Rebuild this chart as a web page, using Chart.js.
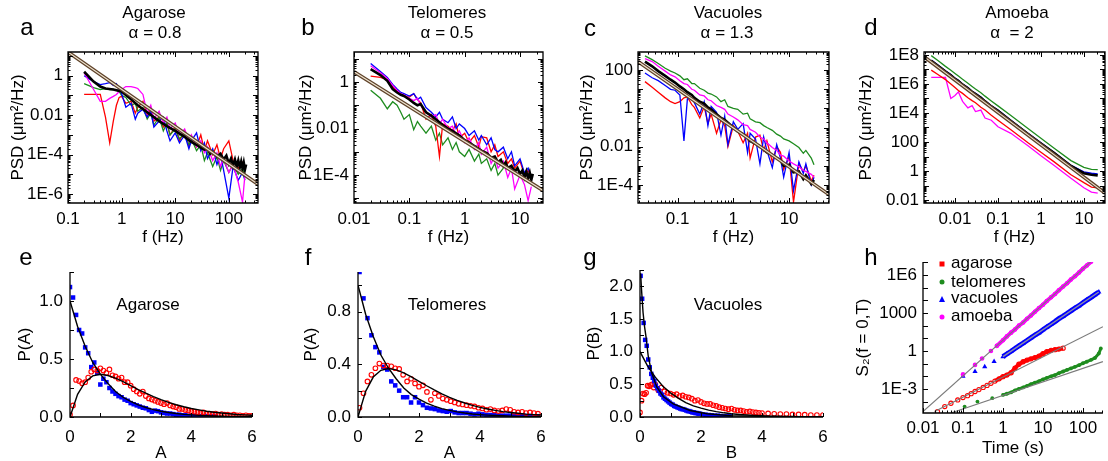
<!DOCTYPE html>
<html>
<head>
<meta charset="utf-8">
<script src="https://cdn.jsdelivr.net/npm/chart.js@4.4.1/dist/chart.umd.min.js"></script>
<style>
  body { margin: 0; background: #fff; width: 1108px; height: 461px; overflow: hidden; position: relative;
         font-family: "Liberation Sans", Arial, Helvetica, sans-serif; color: #000; }
  canvas { position: absolute; left: 0; top: 0; }
  .t { position: absolute; transform: translate(-50%, -50%); white-space: nowrap; font-size: 17px; }
  .k { position: absolute; transform: translate(-50%, -50%); font-size: 24px; }
  .lg { position: absolute; font-size: 17px; white-space: nowrap; transform: translateY(-50%); }
  .mk { position: absolute; transform: translate(-50%, -50%); }
</style>
</head>
<body>
<canvas id="pa" width="1108" height="461"></canvas>
<canvas id="pb" width="1108" height="461"></canvas>
<canvas id="pc" width="1108" height="461"></canvas>
<canvas id="pd" width="1108" height="461"></canvas>
<canvas id="pe" width="1108" height="461"></canvas>
<canvas id="pf" width="1108" height="461"></canvas>
<canvas id="pg" width="1108" height="461"></canvas>
<canvas id="ph" width="1108" height="461"></canvas>

<div class="k" style="left:27px;top:27px">a</div>
<div class="k" style="left:308px;top:27px">b</div>
<div class="k" style="left:590px;top:28px">c</div>
<div class="k" style="left:871px;top:27px">d</div>
<div class="k" style="left:26px;top:257px">e</div>
<div class="k" style="left:308px;top:257px">f</div>
<div class="k" style="left:590px;top:257px">g</div>
<div class="k" style="left:871px;top:257px">h</div>

<div class="t" style="left:154px;top:13px">Agarose</div>
<div class="t" style="left:155px;top:33px">α = 0.8</div>
<div class="t" style="left:447px;top:13px">Telomeres</div>
<div class="t" style="left:447px;top:33px">α = 0.5</div>
<div class="t" style="left:728px;top:13px">Vacuoles</div>
<div class="t" style="left:727px;top:33px">α = 1.3</div>
<div class="t" style="left:1017px;top:13px">Amoeba</div>
<div class="t" style="left:1012px;top:33px">α &nbsp;= 2</div>

<div class="t" style="left:148px;top:305px">Agarose</div>
<div class="t" style="left:447px;top:305px">Telomeres</div>
<div class="t" style="left:728px;top:305px">Vacuoles</div>

<div class="mk" style="left:942px;top:264px;width:5px;height:5px;background:#f00"></div>
<div class="lg" style="left:951px;top:263px">agarose</div>
<div class="mk" style="left:942px;top:282px;width:5px;height:5px;border-radius:50%;background:#1e8c1e"></div>
<div class="lg" style="left:951px;top:282px">telomeres</div>
<div class="mk" style="left:942px;top:299px;width:0;height:0;border-left:3px solid transparent;border-right:3px solid transparent;border-bottom:6px solid #00f"></div>
<div class="lg" style="left:951px;top:298px">vacuoles</div>
<div class="mk" style="left:942px;top:317px;width:5px;height:5px;border-radius:50%;background:#f0f"></div>
<div class="lg" style="left:951px;top:316px">amoeba</div>

<script>
// PSD panels: values are the powers of ten (y = 10^v)

// a: Agarose
const aFreq = [0.2,0.3,0.4,0.5,0.6,0.7,0.8,0.9,1,1.2,1.5,1.8,2,2.5,3,3.5,4,5,6,7,8,10,12,15,18,20,25,30,35,40,50,60,70,80,100,120,150,180,200];
const aRedExp = [-0.95,-0.95,-0.95,-2.1,-3.4,-2.3,-1.5,-1.1,-1.05,-1.4,-1.3,-1.9,-1.6,-1.3,-2.0,-1.7,-2.3,-2.1,-2.6,-2.4,-3.0,-2.6,-3.3,-2.8,-3.6,-3.2,-3.6,-3.0,-3.8,-3.3,-4.0,-3.5,-4.2,-3.7,-3.3,-4.3,-4.7,-4.4,-4.8];
const aGreenExp = [-0.4,-0.6,-0.7,-0.65,-0.7,-0.7,-0.75,-0.8,-1.0,-1.1,-1.5,-1.4,-1.8,-1.6,-2.2,-1.9,-2.5,-2.1,-2.8,-2.4,-3.0,-2.7,-3.2,-2.9,-3.5,-3.2,-3.8,-3.5,-4.3,-3.9,-4.6,-4.1,-4.8,-4.3,-4.9,-4.5,-5.0,-4.7,-5.1];
const aBlueExp = [0.0,-0.3,-0.45,-0.4,-0.35,-0.5,-0.4,-0.7,-0.9,-1.6,-1.4,-2.2,-1.9,-1.7,-2.1,-1.8,-2.6,-2.3,-2.1,-2.8,-3.3,-2.9,-3.4,-3.0,-3.7,-3.3,-2.9,-3.8,-3.4,-4.2,-3.7,-4.5,-4.0,-4.8,-6.2,-4.6,-5.3,-4.9,-5.3];
const aMagentaExp = [0.15,-0.7,-1.3,-1.3,-1.15,-1.05,-0.95,-0.8,-0.7,-0.55,-0.55,-0.6,-0.65,-0.95,-1.9,-1.5,-2.2,-1.8,-2.4,-2.1,-2.7,-2.4,-3.0,-2.7,-3.3,-3.0,-3.6,-3.3,-3.9,-3.6,-4.3,-3.9,-4.6,-4.2,-4.9,-4.5,-5.4,-6.4,-5.0];
const aBlackFreq = [0.2,0.3,0.4,0.5,0.7,1,1.5,2,3,4,5,7,10,15,20,25,30,35,40,45,50,60,70,80,90,100,110,120,130,140,150,160,170,180,190,200,210];
const aBlackExp = [0.2,-0.3,-0.55,-0.65,-0.7,-0.8,-1.2,-1.5,-1.85,-2.1,-2.3,-2.55,-2.8,-3.1,-3.35,-3.5,-3.65,-3.75,-3.7,-3.95,-3.85,-4.1,-3.95,-4.25,-4.05,-4.45,-4.2,-4.55,-4.25,-4.6,-4.3,-4.65,-4.35,-4.7,-4.4,-4.75,-4.5];
const aFitFreq = [0.1, 350];
const aFitExp = [1.2, -5.5];
const aXTicks = [0.1, 1, 10, 100], aXLabels = ['0.1', '1', '10', '100'];
const aYTicks = [1e-6, 1e-4, 0.01, 1], aYLabels = ['1E-6', '1E-4', '0.01', '1'];

// b: Telomeres
const bFreq = [0.02,0.03,0.04,0.05,0.06,0.07,0.08,0.1,0.12,0.14,0.16,0.2,0.25,0.3,0.35,0.4,0.5,0.6,0.7,0.8,1,1.2,1.5,1.8,2,2.5,3,3.5,4,5,6,7,8,10,12,14,16];
const bRedExp = [0.25,0.2,0.1,-0.2,-0.4,-0.55,-0.6,-0.65,-0.5,-0.75,-0.9,-1.6,-1.4,-1.9,-3.2,-1.8,-1.9,-2.1,-1.8,-2.4,-2.2,-2.6,-2.3,-2.8,-2.35,-2.4,-3.0,-2.7,-3.2,-3.0,-3.5,-3.3,-3.7,-3.4,-4.0,-3.8,-4.1];
const bGreenExp = [-0.35,-0.7,-1.15,-0.85,-1.0,-1.3,-1.6,-1.4,-2.05,-1.7,-1.9,-2.2,-1.9,-2.5,-2.2,-2.7,-2.4,-2.9,-2.6,-3.0,-3.2,-2.9,-3.4,-3.1,-3.5,-3.3,-3.8,-3.5,-4.0,-3.7];
const bBlueExp = [0.8,0.45,0.2,-0.1,-0.3,-0.45,-0.5,-0.6,-0.5,-0.75,-0.65,-1.1,-1.3,-1.5,-1.3,-1.6,-1.75,-1.5,-2.0,-1.8,-2.0,-2.3,-2.1,-2.5,-2.3,-2.7,-2.4,-2.9,-3.0,-2.8,-3.3,-3.0,-3.6,-3.3,-3.9,-3.7,-4.1];
const bMagentaExp = [0.7,0.4,0.15,-0.15,-0.35,-0.5,-0.55,-0.7,-0.8,-0.7,-1.0,-1.3,-1.5,-1.4,-1.8,-1.6,-2.0,-1.9,-2.3,-2.1,-2.6,-2.4,-2.9,-2.6,-3.1,-2.8,-3.5,-3.2,-3.7,-3.4,-4.1,-3.7,-4.6,-4.0,-4.4,-5.1,-4.5];
const bBlackFreq = [0.02,0.03,0.04,0.05,0.06,0.07,0.08,0.1,0.12,0.14,0.16,0.2,0.25,0.3,0.4,0.5,0.6,0.8,1,1.2,1.5,2,2.5,3,3.5,4,4.5,5,5.5,6,7,8,9,10,11,12,13,14,15,16,17];
const bBlackExp = [0.55,0.3,0.05,-0.3,-0.45,-0.55,-0.6,-0.75,-0.9,-1.0,-0.95,-1.3,-1.45,-1.6,-1.85,-2.0,-2.1,-2.3,-2.5,-2.6,-2.75,-2.95,-3.05,-3.25,-3.2,-3.45,-3.35,-3.6,-3.45,-3.7,-3.6,-3.85,-3.7,-3.95,-3.8,-4.1,-3.85,-4.15,-3.9,-4.2,-3.95];
const bFitFreq = [0.01, 26];
const bFitExp = [0.44, -4.66];
const bXTicks = [0.01, 0.1, 1, 10], bXLabels = ['0.01', '0.1', '1', '10'];
const bYTicks = [1e-4, 0.01, 1], bYLabels = ['1E-4', '0.01', '1'];

// c: Vacuoles
const cFreq = [0.026,0.035,0.045,0.06,0.075,0.09,0.11,0.13,0.15,0.18,0.2,0.25,0.3,0.35,0.4,0.5,0.6,0.7,0.8,1,1.2,1.5,1.8,2,2.5,3,3.5,4,5,6,7,8,10,12,15,18,20,25,28];
const cRedExp = [1.4,1.1,0.85,0.55,0.35,0.25,0.35,0.55,0.6,0.2,0.05,-0.5,0.1,-0.8,-0.3,-1.3,-0.6,-0.9,-2.0,-0.9,-1.2,-1.8,-1.3,-2.6,-1.5,-1.4,-2.2,-1.7,-2.8,-2.0,-2.3,-3.2,-2.5,-4.9,-2.9,-3.3,-3.0,-3.8,-3.5];
const cGreenExp = [2.75,2.55,2.35,2.1,1.95,1.85,1.7,1.5,1.55,1.3,1.3,1.05,0.95,0.8,0.75,0.6,0.35,0.45,0.1,0.0,-0.05,-0.3,-0.25,-0.55,-0.7,-0.75,-0.9,-1.0,-1.15,-1.35,-1.45,-1.6,-1.7,-1.85,-2.05,-2.35,-2.2,-2.6,-2.95];
const cBlueExp = [1.85,1.6,1.45,1.2,1.0,0.95,0.7,-1.7,0.5,0.55,0.3,-0.3,0.35,-0.9,0.1,-0.2,-1.4,-0.4,-1.9,-0.7,-1.1,-0.8,-2.3,-1.3,-1.6,-2.9,-1.5,-2.2,-3.1,-1.9,-2.6,-3.6,-2.3,-4.3,-2.8,-3.4,-2.9,-4.0,-3.6];
const cMagentaExp = [2.6,2.45,2.2,1.95,1.75,1.65,1.45,1.3,1.25,1.0,0.95,0.7,0.65,0.45,0.4,0.15,0.05,-0.05,-0.3,-0.45,-0.6,-0.85,-0.9,-1.1,-1.25,-1.5,-1.6,-1.8,-2.05,-2.2,-2.45,-2.5,-2.75,-2.9,-3.05,-3.25,-3.3,-3.45,-3.6];
const cBlackExp = [2.45,2.2,1.95,1.7,1.5,1.35,1.15,1.0,0.85,0.7,0.55,0.35,0.25,0.05,-0.05,-0.3,-0.5,-0.6,-0.75,-1.0,-1.2,-1.35,-1.55,-1.7,-1.85,-2.0,-2.15,-2.3,-2.45,-2.6,-2.7,-3.0,-2.95,-3.35,-3.3,-3.7,-3.5,-3.95,-3.75];
const cFitFreq = [0.0195, 52];
const cFitExp = [2.45, -4.51];
const cXTicks = [0.1, 1, 10], cXLabels = ['0.1', '1', '10'];
const cYTicks = [1e-4, 0.01, 1, 100], cYLabels = ['1E-4', '0.01', '1', '100'];

// d: Amoeba
const dFreq = [0.0028,0.004,0.006,0.008,0.01,0.012,0.015,0.02,0.025,0.03,0.04,0.05,0.07,0.1,0.2,0.5,1,2,5,10,15,21];
const dRedExp = [6.95,6.65,6.3,6.0,5.75,5.55,5.35,5.05,4.85,4.7,4.4,4.2,3.85,3.5,2.85,1.95,1.3,0.65,-0.25,-0.8,-1.1,-1.15];
const dGreenExp = [7.95,7.62,7.21,6.95,6.72,6.54,6.32,6.05,5.83,5.65,5.39,5.16,4.83,4.49,3.82,2.93,2.26,1.59,0.72,0.25,0.12,0.1];
const dBlueExp = [7.65,7.3,6.9,6.65,6.4,6.25,6.0,5.75,5.5,5.35,5.1,4.85,4.5,4.2,3.5,2.6,1.95,1.3,0.4,-0.05,-0.15,-0.2];
const dMagentaExp = [6.45,6.45,6.45,5.0,5.2,5.45,4.8,4.35,4.5,4.1,4.2,3.65,3.5,3.05,2.6,1.75,1.05,0.4,-0.5,-1.15,-1.45,-1.52];
const dBlackExp = [7.6,7.25,6.85,6.6,6.35,6.2,5.95,5.7,5.45,5.3,5.05,4.8,4.45,4.15,3.45,2.55,1.9,1.25,0.35,-0.15,-0.25,-0.3];
const dFitFreq = [0.0019, 31];
const dFitExp = [7.88, -1.52];
const dXTicks = [0.01, 0.1, 1, 10], dXLabels = ['0.01', '0.1', '1', '10'];
const dYTicks = [0.01, 1, 100, 1e4, 1e6, 1e8], dYLabels = ['0.01', '1', '100', '1E4', '1E6', '1E8'];

// e, f, g: amplitude distributions
const binA = [0,0.1,0.2,0.3,0.4,0.5,0.6,0.7,0.8,0.9,1,1.1,1.2,1.3,1.4,1.5,1.6,1.7,1.8,1.9,2,2.1,2.2,2.3,2.4,2.5,2.6,2.7,2.8,2.9,3,3.1,3.2,3.3,3.4,3.5,3.6,3.7,3.8,3.9,4,4.1,4.2,4.3,4.4,4.5,4.6,4.7,4.8,4.9,5,5.1,5.2,5.3,5.4,5.5,5.6,5.7,5.8,5.9,6];
const eBlue = [1.12,1.03,0.88,0.75,0.72,0.6,0.55,0.43,0.47,0.38,0.28,0.33,0.3,0.25,0.22,0.2,0.18,0.17,0.15,0.14,0.12,0.11,0.1,0.09,0.08,0.075,0.06,0.045,0.055,0.05,0.04,0.035,0.03,0.03,0.025,0.02,0.02,0.015,0.015,0.01,0.01,0.01,0.008,0.008,0.006,0.006,0.005,0.005,0.004];
const eRed = [0.02,0.1,0.32,0.31,0.29,0.3,0.34,0.39,0.41,0.4,0.42,0.4,0.38,0.41,0.36,0.35,0.33,0.34,0.3,0.3,0.27,0.24,0.22,0.2,0.22,0.18,0.16,0.15,0.14,0.13,0.12,0.11,0.12,0.1,0.09,0.085,0.07,0.07,0.06,0.055,0.05,0.045,0.04,0.035,0.04,0.03,0.03,0.025,0.03,0.02,0.025,0.02,0.02,0.015,0.02,0.015,0.015,0.01,0.015,0.01,0.01];
const fA = [0.05,0.18,0.31,0.44,0.57,0.7,0.83,0.96,1.09,1.22,1.35,1.48,1.61,1.74,1.87,2.0,2.13,2.26,2.39,2.52,2.65,2.78,2.91,3.04,3.17,3.3,3.43,3.56,3.69,3.82,3.95,4.08,4.21,4.34,4.47,4.6,4.73,4.86,4.99,5.12,5.25,5.38,5.51,5.64,5.77,5.9];
const fBlue = [1.1,0.9,0.75,0.62,0.53,0.49,0.38,0.36,0.27,0.24,0.2,0.15,0.15,0.11,0.15,0.11,0.09,0.07,0.065,0.06,0.05,0.045,0.04,0.045,0.035,0.03,0.03,0.03,0.025,0.02,0.025,0.02,0.015,0.015,0.015,0.01,0.01,0.01,0.01,0.008,0.01,0.008,0.008,0.008,0.006,0.006];
const fRed = [0.07,0.18,0.27,0.32,0.37,0.405,0.39,0.39,0.385,0.37,0.365,0.32,0.27,0.29,0.255,0.23,0.24,0.19,0.13,0.18,0.16,0.14,0.13,0.12,0.11,0.1,0.095,0.09,0.085,0.08,0.07,0.065,0.055,0.06,0.05,0.045,0.05,0.06,0.055,0.04,0.035,0.04,0.03,0.035,0.03,0.025];
const gBlueB = [0.02,0.07,0.12,0.17,0.22,0.27,0.32,0.37,0.42,0.47,0.52,0.57,0.62,0.67,0.72,0.77,0.82,0.87,0.92,0.97,1.02,1.07,1.12,1.17,1.22,1.27,1.32,1.37,1.42,1.47,1.52,1.57,1.62,1.67,1.72,1.77,1.82,1.87,1.92,1.97,2.05,2.15,2.25,2.35,2.45,2.55,2.65,2.75,2.85,2.95];
const gBlue = [2.16,1.81,1.44,1.18,1.09,0.88,0.76,0.66,0.6,0.55,0.48,0.44,0.4,0.36,0.34,0.3,0.28,0.26,0.24,0.22,0.2,0.19,0.17,0.16,0.15,0.14,0.13,0.12,0.12,0.11,0.1,0.09,0.09,0.08,0.07,0.07,0.06,0.06,0.05,0.05,0.04,0.035,0.03,0.025,0.02,0.02,0.015,0.01,0.01,0.01];
const gRedB = [0,0.05,0.1,0.15,0.2,0.25,0.3,0.35,0.4,0.45,0.5,0.6,0.7,0.8,0.9,1,1.1,1.2,1.3,1.4,1.5,1.6,1.7,1.8,1.9,2,2.1,2.2,2.3,2.4,2.5,2.6,2.7,2.8,2.9,3,3.1,3.2,3.3,3.4,3.5,3.6,3.7,3.8,3.9,4,4.2,4.4,4.6,4.8,5,5.2,5.4,5.6,5.8,6];
const gRed = [0.07,0.25,0.36,0.35,0.37,0.48,0.47,0.49,0.5,0.45,0.5,0.41,0.45,0.39,0.37,0.36,0.34,0.35,0.32,0.33,0.31,0.3,0.28,0.25,0.26,0.23,0.21,0.2,0.2,0.18,0.17,0.15,0.14,0.13,0.12,0.13,0.11,0.1,0.1,0.09,0.08,0.085,0.075,0.07,0.065,0.06,0.055,0.05,0.045,0.045,0.04,0.04,0.035,0.03,0.03,0.03];
// black fit curves
const curveA = [0,0.25,0.5,0.75,1,1.25,1.5,1.75,2,2.25,2.5,2.75,3,3.25,3.5,3.75,4,4.25,4.5,4.75,5,5.25,5.5,5.75,6];
const decayCurve = [1,0.78,0.61,0.47,0.37,0.29,0.22,0.17,0.135,0.105,0.082,0.064,0.05,0.039,0.03,0.023,0.018,0.014,0.011,0.009,0.007,0.005,0.004,0.003,0.0025];
const humpCurve = [0,0.195,0.303,0.354,0.368,0.358,0.335,0.304,0.271,0.237,0.205,0.176,0.149,0.126,0.106,0.088,0.073,0.061,0.05,0.041,0.034,0.028,0.022,0.018,0.015];
const steepB = [0.02,0.05,0.1,0.15,0.2,0.27,0.38,0.55,0.77,1.09,1.64,2.2,3,4,5,6];
const steepCurve = [2.2,1.95,1.6,1.38,1.22,0.93,0.68,0.46,0.31,0.2,0.1,0.05,0.02,0.01,0.005,0.003];

// h: S2 vs time (powers of ten)
const hRedT = [0.023,0.035,0.05,0.074,0.1,0.13,0.16,0.2,0.25,0.32,0.4,0.5,0.63,0.8,1,1.25,1.6,2,2.5,3.2,4,5,6.3,8,10,12.5,16,20,25,32];
const hRedExp = [-4.79,-4.39,-4.13,-3.87,-3.68,-3.53,-3.37,-3.2,-3.05,-2.88,-2.72,-2.55,-2.38,-2.2,-2.03,-1.9,-1.72,-1.35,-1.05,-0.85,-0.72,-0.62,-0.52,-0.4,-0.22,-0.05,0.05,0.1,0.15,0.22];
const hGreenT = [0.11,0.23,0.54,1,1.25,1.6,2,2.5,3.2,4,5,6.3,8,10,12.5,16,20,25,32,40,50,63,80,100,125,160,200,250,280];
const hGreenExp = [-4.39,-4.0,-3.73,-3.47,-3.38,-3.27,-3.12,-3.0,-2.88,-2.75,-2.62,-2.5,-2.38,-2.25,-2.12,-2.0,-1.9,-1.75,-1.62,-1.5,-1.38,-1.25,-1.12,-0.97,-0.85,-0.7,-0.55,-0.2,0.2];
const hBlueT = [0.1,0.2,0.35,0.6,1,1.25,1.6,2,2.5,3.2,4,5,6.3,8,10,12.5,16,20,25,32,40,50,63,80,100,125,160,200,250];
const hBlueExp = [-2.0,-1.63,-1.24,-0.84,-0.45,-0.24,-0.02,0.2,0.4,0.62,0.83,1.04,1.25,1.45,1.68,1.89,2.11,2.32,2.55,2.75,2.96,3.17,3.38,3.58,3.81,4.02,4.24,4.45,4.66];
const hMagentaT = [0.1,0.2,0.3,0.5,0.7,1,1.25,1.6,2,2.5,3.2,4,5,6.3,8,10,12.5,16,20,25,32,40,50,63,80,100,125,160];
const hMagentaExp = [-1.85,-1.1,-0.6,0.0,0.4,0.85,1.15,1.45,1.7,2.0,2.25,2.55,2.8,3.1,3.4,3.65,3.95,4.25,4.5,4.8,5.1,5.35,5.65,5.9,6.2,6.5,6.75,7.05];
const hAmoebaFitT = [0.01, 200], hAmoebaFitExp = [-4.79, 7.34];
const hAgaroseFitT = [0.0195, 316], hAgaroseFitExp = [-4.79, 1.92];
const hTelomereFitT = [0.05, 316], hTelomereFitExp = [-4.9, -0.84];
const hVacuoleFitT = [1, 250], hVacuoleFitExp = [-0.45, 4.66];
const hXTicks = [0.01, 0.1, 1, 10, 100], hXLabels = ['0.01', '0.1', '1', '10', '100'];
const hYTicks = [1e-3, 1, 1000, 1e6], hYLabels = ['1E-3', '1', '1000', '1E6'];

// ---------------------------------------------------------------
const RED = '#ff0000', GREEN = '#1e8c1e', BLUE = '#0000ff', MAG = '#ff00ff';
const font = { family: '"Liberation Sans", Arial, Helvetica, sans-serif', size: 17 };

const pow = (xs, es) => es.map((e, i) => ({ x: xs[i], y: Math.pow(10, e) }));
const lin = (xs, ys) => ys.map((v, i) => ({ x: xs[i], y: v }));

function trace(data, color, width) {
  return { data, showLine: true, borderColor: color, borderWidth: width, pointRadius: 0, tension: 0, fill: false };
}
function dots(data, color, style, r, open) {
  return {
    data, showLine: false, pointStyle: style, pointRadius: r,
    backgroundColor: open ? 'rgba(0,0,0,0)' : color, borderColor: color, borderWidth: open ? 1.1 : 0
  };
}
function fitBand(data) {
  return [trace(data, '#efe5d2', 1.1), trace(data, '#5e4128', 3.6)];
}

// tick marks pointing into the plot
function decadeMarks(min, max, minor) {
  const out = [];
  for (let e = Math.floor(Math.log10(min)); e <= Math.ceil(Math.log10(max)); e++) {
    for (let m = 1; m < 10; m++) {
      const v = m * Math.pow(10, e);
      if (v < min * 0.999 || v > max * 1.001) continue;
      if (m === 1) out.push({ v, len: 5 });
      else if (minor) out.push({ v, len: 2.5 });
    }
  }
  return out;
}
function stepMarks(max, step) {
  const out = [];
  for (let v = 0; v <= max + 1e-9; v += step) out.push({ v, len: 4 });
  return out;
}
function tickMarks(o) {
  return {
    id: 'tickMarks',
    afterDatasetsDraw(chart) {
      const { ctx, chartArea: a } = chart;
      const xs = chart.scales.x, ys = chart.scales.y;
      ctx.save();
      ctx.strokeStyle = '#000';
      ctx.lineWidth = 1;
      ctx.beginPath();
      for (const t of o.x) {
        const p = Math.round(xs.getPixelForValue(t.v)) + 0.5;
        ctx.moveTo(p, a.bottom); ctx.lineTo(p, a.bottom - t.len);
        if (o.frame) { ctx.moveTo(p, a.top); ctx.lineTo(p, a.top + t.len); }
      }
      for (const t of o.y) {
        const p = Math.round(ys.getPixelForValue(t.v)) + 0.5;
        ctx.moveTo(a.left, p); ctx.lineTo(a.left + t.len, p);
        if (o.frame) { ctx.moveTo(a.right, p); ctx.lineTo(a.right - t.len, p); }
      }
      ctx.stroke();
      ctx.lineWidth = 1.3;
      ctx.beginPath();
      if (o.frame) {
        ctx.rect(a.left, a.top, a.right - a.left, a.bottom - a.top);
      } else {
        ctx.moveTo(a.left, a.top); ctx.lineTo(a.left, a.bottom); ctx.lineTo(a.right, a.bottom);
      }
      ctx.stroke();
      ctx.restore();
    }
  };
}

function axis(s, dir, size) {
  return {
    type: s.type, min: s.min, max: s.max,
    afterFit: sc => { if (dir === 'x') sc.height = size; else sc.width = size; },
    afterBuildTicks: sc => { sc.ticks = s.ticks.map(v => ({ value: v })); },
    ticks: { autoSkip: false, maxRotation: 0, minRotation: 0, padding: s.pad, color: '#000', font,
             callback: (v, i) => s.labels[i] },
    grid: { display: false, drawTicks: false },
    border: { display: false },
    title: { display: true, text: s.title, color: '#000', font, padding: { top: 0, bottom: s.tb || 0 } }
  };
}

function panel(id, box, xs, ys, datasets, marks) {
  new Chart(document.getElementById(id), {
    type: 'scatter',
    data: { datasets },
    options: {
      responsive: false, animation: false, events: [],
      layout: { padding: { left: box.L - box.yW, right: 1108 - box.R, top: box.T, bottom: 461 - box.B - box.xH } },
      plugins: { legend: { display: false }, tooltip: { enabled: false } },
      scales: { x: axis(xs, 'x', box.xH), y: axis(ys, 'y', box.yW) }
    },
    plugins: [tickMarks(marks)]
  });
}

const PSD = 'PSD (μm²/Hz)';
function logSpec(min, max, ticks, labels, title, pad, tb) {
  return { type: 'logarithmic', min, max, ticks, labels, title, pad, tb };
}
function psdPanel(id, box, xr, yr, series, black, fit) {
  const ds = [...fitBand(fit), trace(black, '#000', 2.6)];
  for (const s of series) ds.push(trace(s.d, s.c, 1.3));
  panel(id, box,
    logSpec(xr[0], xr[1], xr[2], xr[3], 'f (Hz)', 6),
    logSpec(yr[0], yr[1], yr[2], yr[3], PSD, 5),
    ds,
    { frame: true, x: decadeMarks(xr[0], xr[1], true), y: decadeMarks(yr[0], yr[1], true) });
}

psdPanel('pa', { L: 68, R: 258, T: 52, B: 203, yW: 60, xH: 45 },
  [0.1, 350, aXTicks, aXLabels], [Math.pow(10, -6.45), Math.pow(10, 1.2), aYTicks, aYLabels],
  [{ d: pow(aFreq, aMagentaExp), c: MAG }, { d: pow(aFreq, aBlueExp), c: BLUE },
   { d: pow(aFreq, aGreenExp), c: GREEN }, { d: pow(aFreq, aRedExp), c: RED }],
  pow(aBlackFreq, aBlackExp), pow(aFitFreq, aFitExp));

psdPanel('pb', { L: 354, R: 543, T: 52, B: 203, yW: 58, xH: 45 },
  [0.01, 26, bXTicks, bXLabels], [Math.pow(10, -5.2), Math.pow(10, 1.29), bYTicks, bYLabels],
  [{ d: pow(bFreq, bMagentaExp), c: MAG }, { d: pow(bFreq, bBlueExp), c: BLUE },
   { d: pow(bFreq, bRedExp), c: RED }, { d: pow(bFreq, bGreenExp), c: GREEN }],
  pow(bBlackFreq, bBlackExp), pow(bFitFreq, bFitExp));

psdPanel('pc', { L: 638, R: 829, T: 52, B: 203, yW: 61, xH: 45 },
  [0.0195, 52, cXTicks, cXLabels], [Math.pow(10, -4.95), Math.pow(10, 2.95), cYTicks, cYLabels],
  [{ d: pow(cFreq, cMagentaExp), c: MAG }, { d: pow(cFreq, cGreenExp), c: GREEN },
   { d: pow(cFreq, cBlueExp), c: BLUE }, { d: pow(cFreq, cRedExp), c: RED }],
  pow(cFreq, cBlackExp), pow(cFitFreq, cFitExp));

psdPanel('pd', { L: 924, R: 1105, T: 52, B: 203, yW: 68, xH: 45 },
  [0.0019, 31, dXTicks, dXLabels], [Math.pow(10, -2.2), Math.pow(10, 8.2), dYTicks, dYLabels],
  [{ d: pow(dFreq, dBlueExp), c: BLUE }, { d: pow(dFreq, dGreenExp), c: GREEN },
   { d: pow(dFreq, dRedExp), c: RED }, { d: pow(dFreq, dMagentaExp), c: MAG }],
  pow(dFreq, dBlackExp), pow(dFitFreq, dFitExp));

function linSpec(max, ticks, title, pad, digits, tb) {
  return { type: 'linear', min: 0, max, ticks, labels: ticks.map(v => v.toFixed(digits)), title, pad, tb };
}
const binX = linSpec(6, [0, 2, 4, 6], 'A', 10, 0, -3);

panel('pe', { L: 70, R: 252, T: 272, B: 417, yW: 55, xH: 44 },
  binX, linSpec(1.25, [0, 0.5, 1.0], 'P(A)', 7, 1),
  [trace(lin(curveA, decayCurve), '#000', 1.4), trace(lin(curveA, humpCurve), '#000', 1.4),
   dots(lin(binA, eRed), RED, 'circle', 2.3, true), dots(lin(binA, eBlue), BLUE, 'rect', 3.2, false)],
  { frame: false, x: stepMarks(6, 1), y: stepMarks(1.25, 0.25) });

panel('pf', { L: 358, R: 541, T: 272, B: 417, yW: 57, xH: 44 },
  binX, linSpec(1.1, [0, 0.4, 0.8], 'P(A)', 7, 1),
  [trace(lin(curveA, decayCurve), '#000', 1.4), trace(lin(curveA, humpCurve), '#000', 1.4),
   dots(lin(fA, fRed), RED, 'circle', 2.3, true), dots(lin(fA, fBlue), BLUE, 'rect', 3.2, false)],
  { frame: false, x: stepMarks(6, 1), y: stepMarks(1.1, 0.2) });

panel('pg', { L: 640, R: 823, T: 270, B: 417, yW: 56, xH: 44 },
  linSpec(6, [0, 2, 4, 6], 'B', 10, 0, -3), linSpec(2.25, [0, 0.5, 1.0, 1.5, 2.0], 'P(B)', 7, 1),
  [trace(lin(steepB, steepCurve), '#000', 1.4), trace(lin(curveA, decayCurve), '#000', 1.4),
   dots(lin(gBlueB, gBlue), BLUE, 'rect', 3.2, false), dots(lin(gRedB, gRed), RED, 'circle', 2.3, true)],
  { frame: false, x: stepMarks(6, 1), y: stepMarks(2.25, 0.25) });

// in h the dense part of each record reads as a thick band, drawn from the same points
const hYmin = Math.pow(10, -4.9), hYmax = Math.pow(10, 7.03);
panel('ph', { L: 923, R: 1107, T: 262, B: 413, yW: 70, xH: 44 },
  logSpec(0.01, 316, hXTicks, hXLabels, 'Time (s)', 5, -2),
  logSpec(hYmin, hYmax, hYTicks, hYLabels, 'S₂(f = 0,T)', 6),
  [trace(pow(hVacuoleFitT, hVacuoleFitExp), '#8f8fa8', 1.4),
   trace(pow(hAmoebaFitT, hAmoebaFitExp), '#7a7a7a', 1.1),
   trace(pow(hAgaroseFitT, hAgaroseFitExp), '#7a7a7a', 1.1),
   trace(pow(hTelomereFitT, hTelomereFitExp), '#7a7a7a', 1.1),
   trace(pow(hMagentaT.slice(4), hMagentaExp.slice(4)), MAG, 4),
   dots(pow(hMagentaT, hMagentaExp), MAG, 'circle', 2.3, false),
   trace(pow(hBlueT.slice(4), hBlueExp.slice(4)), BLUE, 5),
   dots(pow(hBlueT, hBlueExp), BLUE, 'triangle', 3, false),
   trace(pow(hRedT.slice(12), hRedExp.slice(12)), RED, 4),
   dots(pow(hRedT, hRedExp), RED, 'circle', 2.1, true),
   trace(pow(hGreenT.slice(3), hGreenExp.slice(3)), GREEN, 3),
   dots(pow(hGreenT, hGreenExp), GREEN, 'circle', 1.9, false)],
  { frame: false, x: decadeMarks(0.01, 316, true), y: decadeMarks(hYmin, hYmax, false) });
</script>
</body>
</html>
